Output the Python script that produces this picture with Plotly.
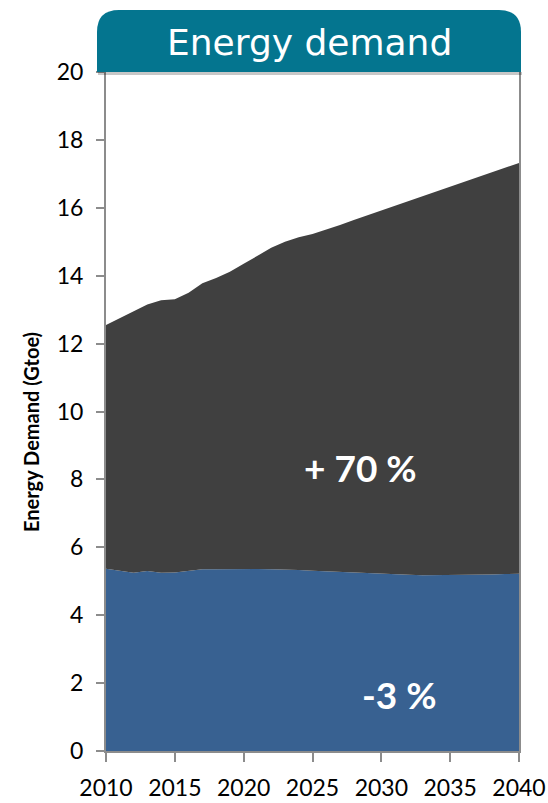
import plotly.graph_objects as go

years = list(range(2010, 2041))

# Total energy demand (Gtoe), top of the stacked area
total_demand = [12.55, 12.75, 12.95, 13.15, 13.28, 13.31, 13.50, 13.78, 13.93, 14.12,
                14.35, 14.58, 14.82, 15.00, 15.13, 15.23, 15.35, 15.49, 15.64, 15.78,
                15.92, 16.06, 16.20, 16.35, 16.50, 16.64, 16.78, 16.92, 17.06, 17.20,
                17.32]

# Lower band (Gtoe)
base_demand = [5.37, 5.30, 5.25, 5.30, 5.25, 5.26, 5.30, 5.35, 5.35, 5.36,
               5.36, 5.36, 5.35, 5.35, 5.33, 5.31, 5.29, 5.27, 5.25, 5.23,
               5.21, 5.20, 5.19, 5.18, 5.18, 5.18, 5.19, 5.20, 5.20, 5.21,
               5.22]

band_labels = ["+ 70 %", "-3 %"]
label_years = [2028.45, 2031.3]
label_values = [8.35, 1.65]

y_ticks = [0, 2, 4, 6, 8, 10, 12, 14, 16, 18, 20]
x_ticks = [2010, 2015, 2020, 2025, 2030, 2035, 2040]

BLUE = "#386191"
DARK = "#404040"
TEAL = "#04758f"
AXIS = "#8c8c8c"

fig = go.Figure()
fig.add_trace(go.Scatter(x=years, y=base_demand, mode="lines", line=dict(width=0),
                         fill="tozeroy", fillcolor=BLUE, hoverinfo="skip"))
fig.add_trace(go.Scatter(x=years, y=total_demand, mode="lines", line=dict(width=0),
                         fill="tonexty", fillcolor=DARK, hoverinfo="skip"))

for txt, xv, yv in zip(band_labels, label_years, label_values):
    fig.add_annotation(x=xv, y=yv, text=f"<b>{txt}</b>", showarrow=False,
                       font=dict(family="Lato, 'Open Sans', sans-serif", size=37, color="white"))

# Plot-area geometry in pixels, used to place the header box in paper units
W_PLOT = 413.0
H_PLOT = 679.0
x0 = -9 / W_PLOT
x1 = 1 + 2 / W_PLOT
y0 = 1.0
y1 = 1 + 62 / H_PLOT
rx = 22 / W_PLOT
ry = 22 / H_PLOT

# soft shadow under the header
fig.add_shape(type="rect", xref="paper", yref="paper",
              x0=x0 + 1 / W_PLOT, x1=x1 + 1 / W_PLOT, y0=y0 - 3 / H_PLOT, y1=y0,
              fillcolor="rgba(0,0,0,0.22)", line=dict(width=0), layer="above")

path = (f"M {x0},{y0} L {x0},{y1 - ry} Q {x0},{y1} {x0 + rx},{y1} "
        f"L {x1 - rx},{y1} Q {x1},{y1} {x1},{y1 - ry} L {x1},{y0} Z")
fig.add_shape(type="path", xref="paper", yref="paper", path=path,
              fillcolor=TEAL, line=dict(width=0), layer="above")

fig.add_annotation(xref="paper", yref="paper", x=(x0 + x1) / 2, y=1 + 29 / H_PLOT,
                   text="Energy demand", showarrow=False, yanchor="middle",
                   font=dict(family="DejaVu Sans, Verdana, sans-serif", size=36, color="white"))

# vertical axis title, set slightly below the axis midpoint
fig.add_annotation(xref="paper", yref="paper", x=-75 / W_PLOT, y=(751 - 432) / H_PLOT,
                   text="<b>Energy Demand (Gtoe)</b>", showarrow=False, textangle=-90,
                   xanchor="center", yanchor="middle",
                   font=dict(family="Lato, 'Open Sans', sans-serif", size=20, color="black"))

tick_font = dict(family="Lato, 'Open Sans', sans-serif", size=23, color="black")

fig.update_layout(
    width=548, height=803,
    margin=dict(l=106, r=29, t=72, b=52, autoexpand=False),
    paper_bgcolor="white", plot_bgcolor="white",
    showlegend=False,
    xaxis=dict(range=[2010, 2040], tickvals=x_ticks, showgrid=False, zeroline=False,
               showline=True, linecolor=AXIS, linewidth=2, ticks="outside", ticklen=9,
               tickcolor=AXIS, tickwidth=2, tickfont=tick_font, ticklabelstandoff=6,
               automargin=False),
    yaxis=dict(range=[0, 20], tickvals=y_ticks, showgrid=False, zeroline=False,
               showline=True, linecolor=AXIS, linewidth=2, mirror=True,
               ticks="outside", ticklen=8, tickcolor=AXIS, tickwidth=2,
               tickfont=tick_font, ticklabelstandoff=8, automargin=False),
)

fig.write_html("out.html")
